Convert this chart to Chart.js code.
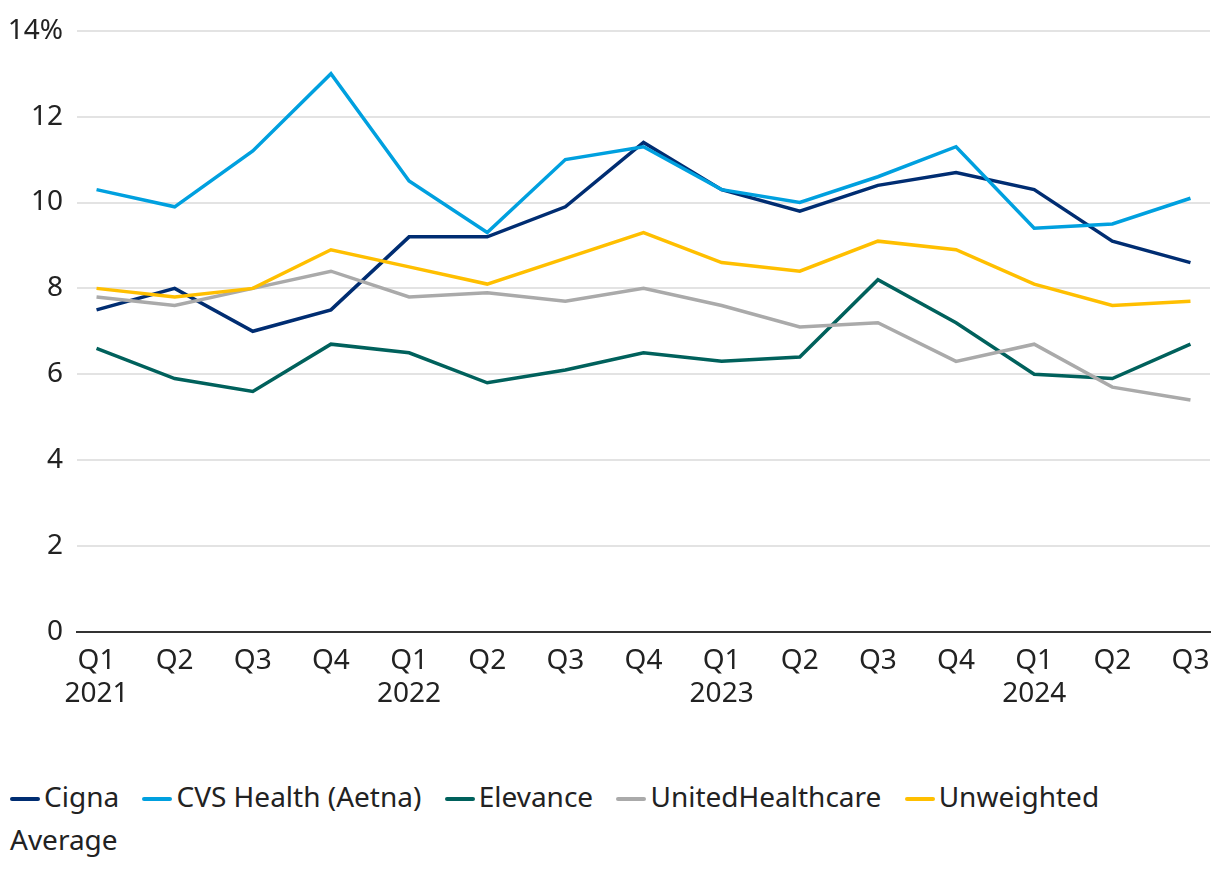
<!DOCTYPE html>
<html>
<head>
<meta charset="utf-8">
<script src="https://cdn.jsdelivr.net/npm/chart.js@4"></script>
<style>
  body { margin: 0; background: #fff; font-family: "Noto Sans", sans-serif; color: #222; }
  #wrap { position: relative; width: 1220px; height: 715px; }
  #legenda { padding: 0 10px; width: 1200px; font-size: 28px; line-height: 43px; margin-top: 60px; }
  #legenda .item { margin-right: 16px; }
  #legenda .sw { display: inline-block; width: 30px; height: 4px; border-radius: 2px; vertical-align: middle; margin-right: 4px; position: relative; top: -1px; }
</style>
</head>
<body>
<div id="wrap"><canvas id="graficoMLR"></canvas></div>
<div id="legenda"></div>
<script>
// dados
var trimestres = [['Q1', '2021'], 'Q2', 'Q3', 'Q4', ['Q1', '2022'], 'Q2', 'Q3', 'Q4',
    ['Q1', '2023'], 'Q2', 'Q3', 'Q4', ['Q1', '2024'], 'Q2', 'Q3'];
var cigna = [7.5, 8.0, 7.0, 7.5, 9.2, 9.2, 9.9, 11.4, 10.3, 9.8, 10.4, 10.7, 10.3, 9.1, 8.6];
var cvs = [10.3, 9.9, 11.2, 13.0, 10.5, 9.3, 11.0, 11.3, 10.3, 10.0, 10.6, 11.3, 9.4, 9.5, 10.1];
var elevance = [6.6, 5.9, 5.6, 6.7, 6.5, 5.8, 6.1, 6.5, 6.3, 6.4, 8.2, 7.2, 6.0, 5.9, 6.7];
var unitedHealth = [7.8, 7.6, 8.0, 8.4, 7.8, 7.9, 7.7, 8.0, 7.6, 7.1, 7.2, 6.3, 6.7, 5.7, 5.4];
var mediaSimples = [8.0, 7.8, 8.0, 8.9, 8.5, 8.1, 8.7, 9.3, 8.6, 8.4, 9.1, 8.9, 8.1, 7.6, 7.7];
var yTicks = [0, 2, 4, 6, 8, 10, 12, 14];

var series = [
    { label: 'Cigna', data: cigna, color: '#002D72' },
    { label: 'CVS Health (Aetna)', data: cvs, color: '#00A0DF' },
    { label: 'Elevance', data: elevance, color: '#00615C' },
    { label: 'UnitedHealthcare', data: unitedHealth, color: '#AAAAAA' },
    { label: 'Unweighted Average', data: mediaSimples, color: '#FFBF00' }
];

Chart.defaults.font.family = '"Noto Sans", sans-serif';
Chart.defaults.font.size = 28;
Chart.defaults.color = '#222';

var ctx = document.getElementById('graficoMLR').getContext('2d');
var grafico = new Chart(ctx, {
    type: 'line',
    data: {
        datasets: series.map(s => ({
            label: s.label,
            data: s.data.map((v, i) => ({ x: i, y: v })),
            borderColor: s.color,
            backgroundColor: s.color,
            borderWidth: 3.5,
            pointRadius: 0,
            tension: 0,
            fill: false
        })).reverse() // amarelo por baixo
    },
    options: {
        responsive: true,
        maintainAspectRatio: false,
        animation: false,
        layout: { padding: { top: 14, right: 10, left: 0, bottom: 0 } },
        plugins: { legend: { display: false }, tooltip: { enabled: false } },
        scales: {
            x: {
                type: 'linear',
                min: -0.25,
                max: trimestres.length - 0.75,
                afterBuildTicks: function (scale) {
                    scale.ticks = trimestres.map((_, i) => ({ value: i }));
                },
                grid: { display: false },
                border: { display: true, color: '#333', width: 2 },
                ticks: {
                    autoSkip: false,
                    maxRotation: 0,
                    padding: 4,
                    callback: function (value) { return trimestres[value]; }
                }
            },
            y: {
                min: 0,
                max: 14,
                afterBuildTicks: function (scale) {
                    scale.ticks = yTicks.map(v => ({ value: v }));
                },
                afterFit: function (scale) { scale.width = 77; },
                grid: { color: '#e3e3e3', lineWidth: 2, drawTicks: false },
                border: { display: false },
                ticks: {
                    padding: 14,
                    callback: function (value) { return value === 14 ? value + '%' : value; }
                }
            }
        }
    }
});

// legenda em html para quebrar linha igual ao original
var leg = document.getElementById('legenda');
leg.innerHTML = series.map(s =>
    '<span class="item"><span class="sw" style="background:' + s.color + '"></span>' + s.label + '</span>'
).join(' ');
</script>
</body>
</html>
